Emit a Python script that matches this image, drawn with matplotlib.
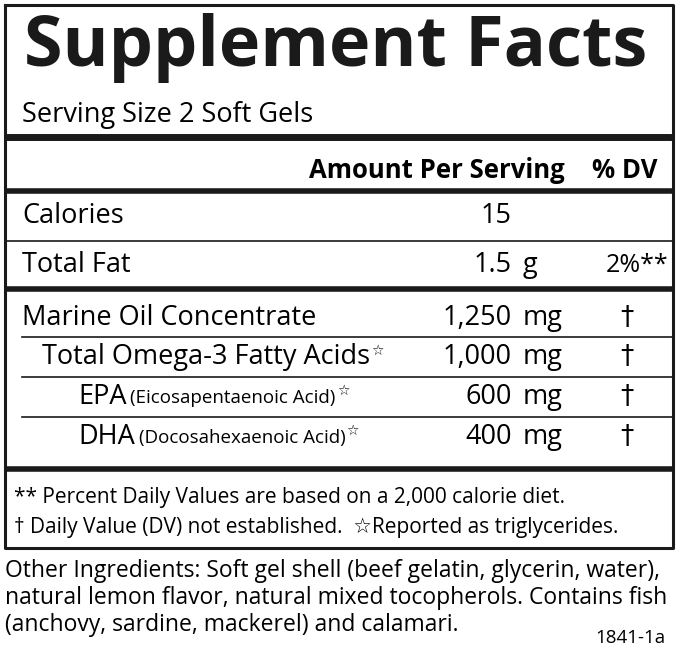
import matplotlib
matplotlib.use("Agg")
import matplotlib.pyplot as plt

FONT = "Open Sans"
top_names = ["Calories", "Total Fat"]
top_amounts = ["15", "1.5"]
top_units = ["", "g"]
top_dv = ["", "2%**"]
names = ["Marine Oil Concentrate", "Total Omega-3 Fatty Acids", "EPA", "DHA"]
subnames = ["", "", "(Eicosapentaenoic Acid)", "(Docosahexaenoic Acid)"]
indents = [22, 42, 78, 78]
stars = [False, True, True, True]
amounts = ["1,250", "1,000", "600", "400"]
units = ["mg", "mg", "mg", "mg"]
dvs = ["†", "†", "†", "†"]

fig = plt.figure(figsize=(6.79, 6.52), dpi=100)
ax = fig.add_axes([0, 0, 1, 1])
ax.set_xlim(0, 679); ax.set_ylim(652, 0); ax.axis("off")

def hl(y, lw):
    ax.plot([5, 673], [y, y], color="#1a1a1a", lw=lw, solid_capstyle="butt")

ax.plot([5, 673, 673, 5, 5], [5, 5, 548, 548, 5], color="#1a1a1a", lw=2.2)
ax.text(336, 48, "Supplement Facts", fontsize=50.5, fontweight="bold", family=FONT,
        ha="center", va="center", color="#1a1a1a")
ax.text(22, 115, "Serving Size 2 Soft Gels", fontsize=19.5, family=FONT, va="center")
hl(137, 5)
ax.text(565, 170, "Amount Per Serving", fontsize=18.5, fontweight="bold", family=FONT, ha="right", va="center")
ax.text(625, 170, "% DV", fontsize=18.5, fontweight="bold", family=FONT, ha="center", va="center")
hl(191, 4)
ys = [216, 265]
for i in range(2):
    ax.text(22, ys[i], top_names[i], fontsize=19.5, family=FONT, va="center")
    ax.text(512, ys[i], top_amounts[i], fontsize=19.5, family=FONT, ha="right", va="center")
    ax.text(523, ys[i], top_units[i], fontsize=19.5, family=FONT, ha="left", va="center")
    ax.text(668, ys[i], top_dv[i], fontsize=18, family=FONT, ha="right", va="center")
hl(241, 1.2)
hl(289, 4)
ys2 = [318, 357, 397, 437]
for i in range(4):
    t = ax.text(indents[i], ys2[i], names[i], fontsize=19.5, family=FONT, va="center")
    fig.canvas.draw()
    x_end = t.get_window_extent().x1
    if subnames[i]:
        t2 = ax.text(x_end + 4, ys2[i] + 1, subnames[i], fontsize=13.5, family=FONT, va="center")
        fig.canvas.draw(); x_end = t2.get_window_extent().x1
    if stars[i]:
        ax.text(x_end + 1, ys2[i] - 6, "☆", fontsize=10, family="DejaVu Sans", va="center")
    ax.text(512, ys2[i], amounts[i], fontsize=19.5, family=FONT, ha="right", va="center")
    ax.text(523, ys2[i], units[i], fontsize=19.5, family=FONT, ha="left", va="center")
    ax.text(627, ys2[i], dvs[i], fontsize=19, family="DejaVu Sans", ha="center", va="center")
for y in [337, 377, 417]:
    ax.plot([22, 673], [y, y], color="#1a1a1a", lw=1.2)
hl(469, 4)
ax.text(14, 497, "** Percent Daily Values are based on a 2,000 calorie diet.", fontsize=15, family=FONT, va="center")
ax.text(14, 528, "† Daily Value (DV) not established.  ☆Reported as triglycerides.", fontsize=15,
        family=[FONT, "DejaVu Sans"], va="center")
other = ["Other Ingredients: Soft gel shell (beef gelatin, glycerin, water),",
         "natural lemon flavor, natural mixed tocopherols. Contains fish",
         "(anchovy, sardine, mackerel) and calamari."]
for i, l in enumerate(other):
    ax.text(5, 571 + i * 27, l, fontsize=16.5, family=FONT, va="center")
ax.text(665, 638, "1841-1a", fontsize=13.5, family=FONT, ha="right", va="center")
fig.savefig("out.png", dpi=100)
